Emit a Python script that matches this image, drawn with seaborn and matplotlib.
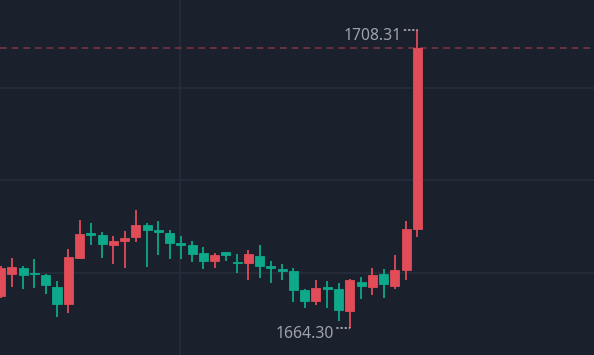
import matplotlib
matplotlib.use("Agg")
import matplotlib.pyplot as plt
import seaborn as sns
import pandas as pd
import numpy as np

# ---- data ----
opens = [1669.02, 1672.27, 1673.16, 1672.27, 1672.13, 1670.35, 1667.84, 1674.64, 1678.18, 1678.03,
         1676.56, 1677.15, 1677.74, 1679.51, 1678.77, 1678.33, 1676.85, 1676.56, 1675.38, 1674.19,
         1675.52, 1673.90, 1673.90, 1674.93, 1673.31, 1673.01, 1672.72, 1669.91, 1668.29, 1670.21,
         1670.06, 1666.81, 1671.09, 1670.35, 1672.27, 1670.50, 1672.86, 1678.92]
highs = [1673.46, 1674.64, 1673.46, 1674.49, 1672.27, 1671.24, 1675.97, 1680.25, 1679.81, 1678.48,
         1677.89, 1678.62, 1681.73, 1679.81, 1680.10, 1678.77, 1677.89, 1677.15, 1676.26, 1675.38,
         1675.52, 1675.23, 1675.82, 1676.56, 1674.19, 1673.75, 1673.16, 1670.06, 1671.39, 1671.24,
         1670.94, 1671.54, 1671.83, 1673.16, 1673.01, 1675.08, 1680.10, 1708.31]
lows = [1668.73, 1670.35, 1670.06, 1670.21, 1669.32, 1665.92, 1666.51, 1674.49, 1676.56, 1674.64,
        1673.75, 1673.16, 1677.00, 1673.31, 1675.08, 1674.49, 1674.49, 1674.05, 1673.01, 1673.16,
        1674.19, 1672.42, 1671.39, 1671.68, 1670.94, 1671.39, 1668.14, 1667.25, 1667.70, 1667.25,
        1665.33, 1664.30, 1668.58, 1669.17, 1668.73, 1670.06, 1671.39, 1677.74]
closes = [1673.16, 1673.31, 1672.13, 1672.20, 1670.65, 1667.84, 1674.78, 1678.18, 1678.10, 1676.70,
          1677.15, 1677.59, 1679.51, 1678.77, 1678.48, 1676.85, 1676.56, 1675.23, 1674.19, 1675.08,
          1675.08, 1673.83, 1675.23, 1673.46, 1673.23, 1672.72, 1669.91, 1668.29, 1670.21, 1670.13,
          1666.96, 1671.39, 1670.50, 1672.13, 1670.80, 1672.86, 1678.92, 1705.60]
grid_prices = [1699.74, 1686.16, 1672.42]
grid_times = [15.93]

df = pd.DataFrame({"i": np.arange(len(opens)), "open": opens, "high": highs,
                   "low": lows, "close": closes})
df["up"] = df["close"] >= df["open"]

BG = "#1b202d"
RED = "#e04c58"
GREEN = "#0ea88a"
GRID = "#262e3b"

sns.set_theme(style="dark", rc={"axes.facecolor": BG, "figure.facecolor": BG})
plt.rcParams["font.family"] = ["Noto Sans", "DejaVu Sans"]

fig = plt.figure(figsize=(5.94, 3.55), dpi=100)
ax = fig.add_axes([0, 0, 1, 1])
ax.set_facecolor(BG)

ax.set_xlim(-0.062, 52.69)
ax.set_ylim(1660.31, 1712.74)

# grid
ax.set_yticks(grid_prices)
ax.set_xticks(grid_times)
ax.grid(True, color=GRID, linewidth=1.2)
ax.tick_params(left=False, bottom=False, labelleft=False, labelbottom=False)
for s in ax.spines.values():
    s.set_visible(False)

colors = [RED if u else GREEN for u in df["up"]]
# wicks
ax.vlines(df["i"], df["low"], df["high"], colors=colors, linewidth=1.3, zorder=2)
# bodies
bottoms = np.minimum(df["open"], df["close"])
heights = np.maximum(np.abs(df["close"] - df["open"]), 0.25)
ax.bar(df["i"], heights, bottom=bottoms, width=0.8, color=colors,
       edgecolor=colors, linewidth=0.6, zorder=3)

# last price dashed line
last = df["close"].iloc[-1]
ax.axhline(last, color="#7a3242", linewidth=1.2, dashes=(4, 3), zorder=1)

# high / low markers
hi_i = int(df["high"].idxmax())
lo_i = int(df["low"].idxmin())
hi_v = df["high"].max()
lo_v = df["low"].min()

for idx, val in [(hi_i, hi_v), (lo_i, lo_v)]:
    ax.annotate("", xy=(idx, val), xycoords="data",
                xytext=(-13, 0), textcoords="offset pixels",
                arrowprops=dict(arrowstyle="-", color="#c9ced8", linewidth=1.0,
                                linestyle=(0, (1, 2)), shrinkA=0, shrinkB=0))
    ax.annotate(f"{val:.2f}", xy=(idx, val), xycoords="data",
                xytext=(-16, 2), textcoords="offset pixels",
                ha="right", va="top", color="#9da3ad", fontsize=11.3)

fig.savefig("out.png", dpi=100, facecolor=BG)
